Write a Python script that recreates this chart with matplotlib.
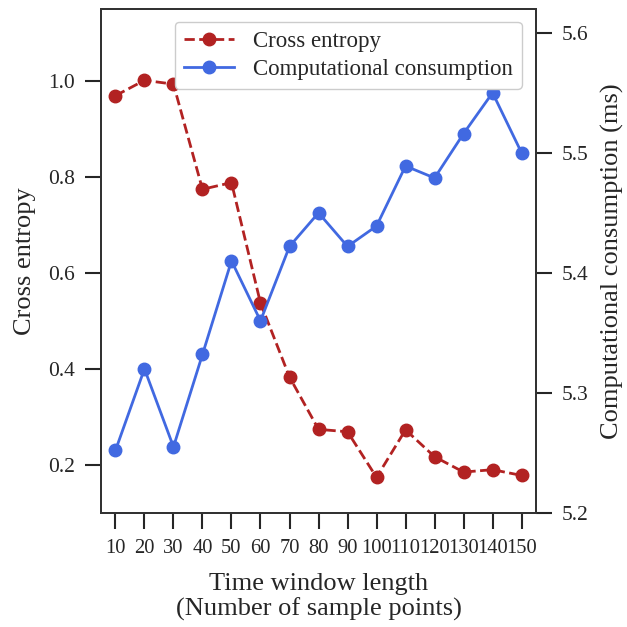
import matplotlib
matplotlib.use("Agg")
import matplotlib.pyplot as plt

# Data
windows = [10, 20, 30, 40, 50, 60, 70, 80, 90, 100, 110, 120, 130, 140, 150]
cross_entropy = [0.969, 1.001, 0.993, 0.774, 0.788, 0.537, 0.383, 0.274,
                 0.269, 0.174, 0.273, 0.217, 0.185, 0.190, 0.178]
consumption = [5.252, 5.320, 5.255, 5.332, 5.410, 5.360, 5.422, 5.450,
               5.422, 5.439, 5.489, 5.479, 5.516, 5.550, 5.500]

plt.rcParams['font.family'] = ['Liberation Serif', 'DejaVu Serif']
plt.rcParams['text.color'] = '#262626'
plt.rcParams['axes.labelcolor'] = '#262626'
plt.rcParams['xtick.color'] = '#262626'
plt.rcParams['ytick.color'] = '#262626'

RED = '#B22222'
BLUE = '#4169E1'

fig = plt.figure(figsize=(6.27, 6.27), dpi=100)
ax = fig.add_axes([0.161, 0.182, 0.694, 0.804])
ax2 = ax.twinx()

pos = list(range(len(windows)))
l1, = ax.plot(pos, cross_entropy, '--o', color=RED, lw=2, ms=9,
              label='Cross entropy')
l2, = ax2.plot(pos, consumption, '-o', color=BLUE, lw=2, ms=9,
               label='Computational consumption')

ax.set_xlim(-0.5, len(windows) - 0.5)
ax.set_ylim(0.1, 1.15)
ax2.set_ylim(5.2, 5.62)
ax.set_xticks(pos)
ax.set_xticklabels([str(w) for w in windows])
ax.set_yticks([0.2, 0.4, 0.6, 0.8, 1.0])
ax2.set_yticks([5.2, 5.3, 5.4, 5.5, 5.6])

for a in (ax, ax2):
    a.tick_params(labelsize=15.5, length=11.5, width=1.5, pad=7)
    for s in a.spines.values():
        s.set_color('#333333')
        s.set_linewidth(1.4)
# long window labels crowd each other, as in the original
ax.tick_params(axis='x', labelsize=14.8)

ax.set_ylabel('Cross entropy', fontsize=19, labelpad=9)
ax2.set_ylabel('Computational consumption (ms)', fontsize=19, labelpad=9)
ax.set_xlabel('Time window length\n(Number of sample points)', fontsize=19,
              labelpad=11, linespacing=1.15)

ax2.legend([l1, l2], [l1.get_label(), l2.get_label()], fontsize=16.5,
           loc='upper right', bbox_to_anchor=(0.993, 0.997),
           handlelength=2.2, borderpad=0.4, labelspacing=0.3,
           edgecolor='#cccccc', framealpha=1)

fig.savefig('out.png', dpi=100)
